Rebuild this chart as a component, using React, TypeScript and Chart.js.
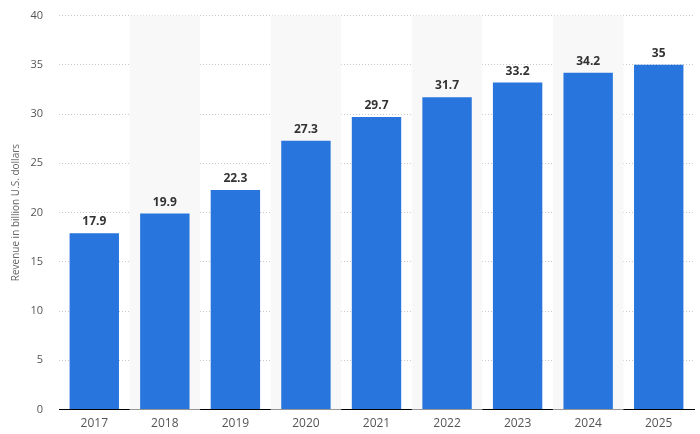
import React, { useEffect, useRef } from "react";
import { Chart, registerables } from "chart.js";

Chart.register(...registerables);

const categories = ["2017", "2018", "2019", "2020", "2021", "2022", "2023", "2024", "2025"];
const revenue = [17.9, 19.9, 22.3, 27.3, 29.7, 31.7, 33.2, 34.2, 35];
const valueLabels = ["17.9", "19.9", "22.3", "27.3", "29.7", "31.7", "33.2", "34.2", "35"];
const yTitle = "Revenue in billion U.S. dollars";

const FONT = "'Open Sans', 'Noto Sans', sans-serif";

const bandPlugin = {
  id: "bands",
  beforeDatasetsDraw(chart: any) {
    const { ctx, chartArea, scales } = chart;
    const x = scales.x;
    ctx.save();
    ctx.fillStyle = "#f8f8f8";
    for (let i = 1; i < categories.length; i += 2) {
      const c = x.getPixelForValue(i);
      const half = (x.getPixelForValue(1) - x.getPixelForValue(0)) / 2;
      ctx.fillRect(c - half, chartArea.top, half * 2, chartArea.bottom - chartArea.top);
    }
    ctx.restore();
  },
};

const labelPlugin = {
  id: "valueLabels",
  afterDatasetsDraw(chart: any) {
    const { ctx } = chart;
    const meta = chart.getDatasetMeta(0);
    ctx.save();
    ctx.font = `bold 12px ${FONT}`;
    ctx.fillStyle = "#333333";
    ctx.textAlign = "center";
    ctx.textBaseline = "alphabetic";
    meta.data.forEach((bar: any, i: number) => {
      ctx.fillText(valueLabels[i], bar.x, bar.y - 8);
    });
    ctx.restore();
  },
};

export default function App() {
  const ref = useRef<HTMLCanvasElement>(null);
  useEffect(() => {
    document.body.style.margin = "0";
    const chart = new Chart(ref.current!, {
      type: "bar",
      data: {
        labels: categories,
        datasets: [
          {
            data: revenue,
            backgroundColor: "#2876dd",
            barPercentage: 0.7,
            categoryPercentage: 1,
          },
        ],
      },
      options: {
        animation: false,
        responsive: false,
        maintainAspectRatio: false,
        layout: { padding: { left: 10, right: 6, top: 0, bottom: -4 } },
        plugins: { legend: { display: false }, tooltip: { enabled: false } },
        scales: {
          x: {
            grid: { display: false, drawTicks: false },
            border: { display: true, color: "#000000", width: 1 },
            ticks: { color: "#555555", font: { family: FONT, size: 12 }, padding: 7 },
          },
          y: {
            min: 0,
            max: 40,
            afterFit: (scale: any) => {
              scale.width = 49;
            },
            ticks: { stepSize: 5, color: "#555555", font: { family: FONT, size: 11 }, padding: 16 },
            grid: { color: "#c8c8c8", drawTicks: false },
            border: { display: false, dash: [1, 2] },
            title: {
              display: true,
              text: yTitle,
              color: "#666666",
              font: { family: FONT, size: 10 },
              padding: { top: 0, bottom: 2 },
            },
          },
        },
      },
      plugins: [bandPlugin, labelPlugin],
    });
    return () => chart.destroy();
  }, []);
  return (
    <div style={{ position: "absolute", left: 0, top: 0, width: 700, height: 434, overflow: "hidden" }}>
      <canvas
        ref={ref}
        width={700}
        height={441}
        style={{ position: "absolute", left: 0, top: -7, width: 700, height: 441 }}
      />
    </div>
  );
}
